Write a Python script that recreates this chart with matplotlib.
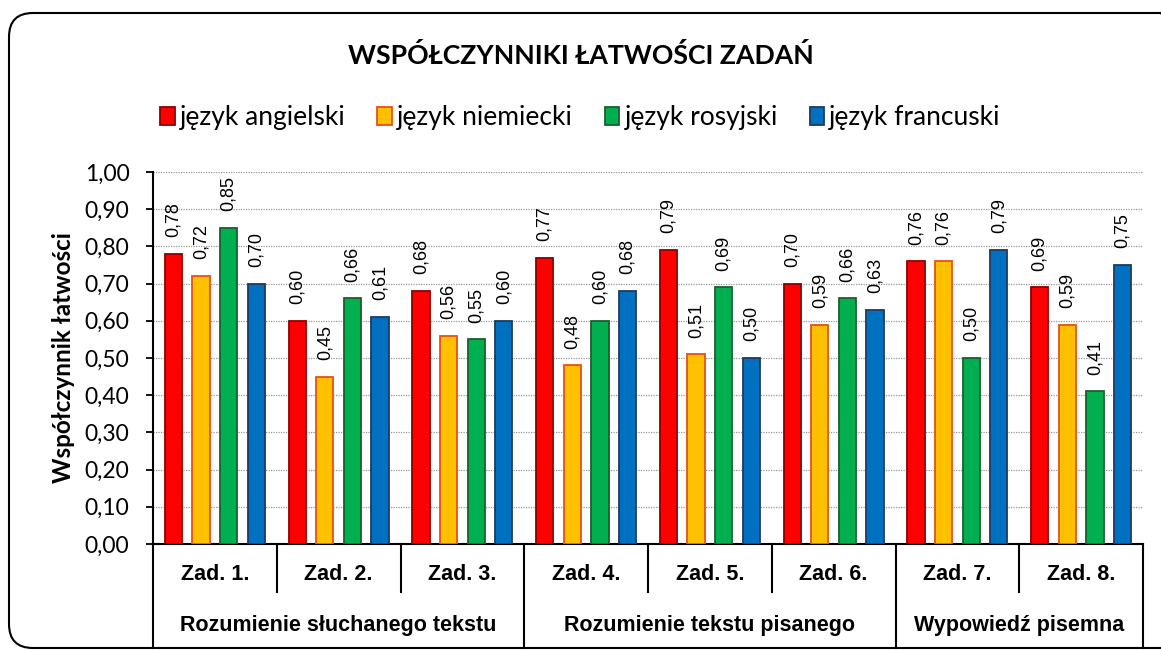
import matplotlib.pyplot as plt
import matplotlib.transforms as mtransforms
from matplotlib.patches import FancyBboxPatch, Patch
import numpy as np

tasks = ["Zad. 1.", "Zad. 2.", "Zad. 3.", "Zad. 4.", "Zad. 5.", "Zad. 6.", "Zad. 7.", "Zad. 8."]
sections = ["Rozumienie słuchanego tekstu", "Rozumienie tekstu pisanego", "Wypowiedź pisemna"]
section_sizes = [3, 3, 2]

series = ["język angielski", "język niemiecki", "język rosyjski", "język francuski"]
angielski = [0.78, 0.60, 0.68, 0.77, 0.79, 0.70, 0.76, 0.69]
niemiecki = [0.72, 0.45, 0.56, 0.48, 0.51, 0.59, 0.76, 0.59]
rosyjski = [0.85, 0.66, 0.55, 0.60, 0.69, 0.66, 0.50, 0.41]
francuski = [0.70, 0.61, 0.60, 0.68, 0.50, 0.63, 0.79, 0.75]

fill_colors = ["#FF0000", "#FFC000", "#00B050", "#0070C0"]
edge_colors = ["#8B0000", "#E8501A", "#1E5E2E", "#1F3A5F"]

CAL = ["Lato", "DejaVu Sans"]
ARIAL = ["Liberation Sans", "DejaVu Sans"]

fig = plt.figure(figsize=(11.61, 6.5), dpi=100)
ax = fig.add_axes([153 / 1161, 1 - 544 / 650, (1143 - 153) / 1161, 372 / 650])

x = np.arange(len(tasks))
offsets = [-0.335, -0.112, 0.112, 0.335]
width = 0.14
for vals, fc, ec, off, name in zip([angielski, niemiecki, rosyjski, francuski],
                                   fill_colors, edge_colors, offsets, series):
    bars = ax.bar(x + off, vals, width=width, color=fc, edgecolor=ec, linewidth=1.3,
                  label=name, zorder=3)
    for b, v in zip(bars, vals):
        ax.annotate(f"{v:.2f}".replace(".", ","),
                    (b.get_x() + b.get_width() / 2, v),
                    xytext=(0, 12), textcoords="offset points",
                    rotation=90, ha="center", va="bottom",
                    fontsize=13, family=ARIAL)

ax.set_xlim(-0.5, len(tasks) - 0.5)
ax.set_ylim(0, 1.0)
yt = np.arange(0, 1.01, 0.1)
ax.set_yticks(yt)
ax.set_yticklabels([f"{v:.2f}".replace(".", ",") for v in yt], fontsize=16.5, family=CAL)
ax.tick_params(axis="y", direction="out", length=5, width=1.3, pad=12)
ax.set_xticks([])
ax.yaxis.grid(True, linestyle=(0, (1, 1)), color="#999999", linewidth=0.9, zorder=0)
for s in ["top", "right"]:
    ax.spines[s].set_visible(False)
ax.spines["left"].set_linewidth(1.5)
ax.spines["bottom"].set_linewidth(1.5)
ax.set_ylabel("Współczynnik łatwości", fontsize=17.5, fontweight="bold", family=CAL, labelpad=7)

# category table under the axis
trans = mtransforms.blended_transform_factory(ax.transData, ax.transAxes)
minor_bottom = -0.129
major_bottom = -0.28
major_edges = np.cumsum([0] + section_sizes) - 0.5
for i in range(len(tasks) + 1):
    xb = i - 0.5
    yb = major_bottom if xb in major_edges else minor_bottom
    ax.plot([xb, xb], [0, yb], color="black", linewidth=1.5, transform=trans, clip_on=False)
for i, t in enumerate(tasks):
    ax.text(i, -0.083, t, transform=trans, ha="center", va="center",
            fontsize=15.5, fontweight="bold", family=ARIAL)
for k, name in enumerate(sections):
    xc = (major_edges[k] + major_edges[k + 1]) / 2
    ax.text(xc, -0.218, name, transform=trans, ha="center", va="center",
            fontsize=15.5, fontweight="bold", family=ARIAL)

fig.text(0.5, 1 - 55 / 650, "WSPÓŁCZYNNIKI ŁATWOŚCI ZADAŃ", ha="center", va="center",
         fontsize=19.2, fontweight="bold", family=CAL)

handles = [Patch(facecolor=fc, edgecolor=ec, linewidth=1.3) for fc, ec in zip(fill_colors, edge_colors)]
fig.legend(handles, series, loc="center", bbox_to_anchor=(0.5, 1 - 118 / 650), ncol=4,
           frameon=False, prop={"family": CAL, "size": 19}, handlelength=0.55,
           handleheight=0.65, handletextpad=0.2, columnspacing=1.2)

border = FancyBboxPatch((9, 2), 1175, 635, boxstyle="round,pad=0,rounding_size=24",
                        transform=mtransforms.IdentityTransform(), facecolor="none",
                        edgecolor="black", linewidth=1.5)
fig.patches.append(border)

fig.savefig("out.png", dpi=100)
